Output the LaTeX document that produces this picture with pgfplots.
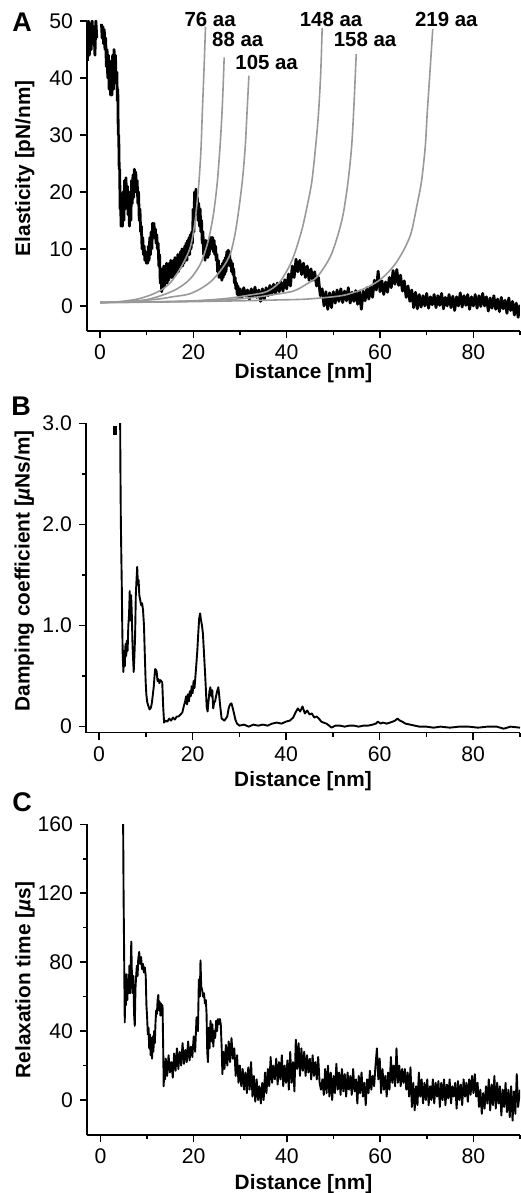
\documentclass[border=0pt]{standalone}
\usepackage{fontspec}
\setmainfont{Liberation Sans}
\usepackage{pgfplots}
\pgfplotsset{compat=1.18}

\definecolor{wlc}{gray}{0.6}

\pgfplotsset{
  panel/.style={
    scale only axis,
    width=216.5pt,
    axis lines=left,
    axis line style={-, line width=0.75pt},
    tick align=outside,
    major tick length=3.5pt,
    minor tick length=2pt,
    every tick/.style={black, line width=0.75pt},
    xmin=-2.8, xmax=90,
    xtick={0,20,40,60,80},
    minor xtick={10,30,50,70,90},
    ticklabel style={font=\fontsize{10.6}{12}\selectfont},
    label style={font=\bfseries\fontsize{10.4}{12}\selectfont},
    /pgf/number format/assume math mode=true,
    xlabel={Distance [nm]},
  },
}

\begin{document}
\begin{tikzpicture}
\useasboundingbox (0,0) rectangle (260pt,-596.5pt);

% ---------------- A: elasticity ----------------
\begin{axis}[panel,
  at={(43.5pt,-165.5pt)}, anchor=south west,
  height=155pt,
  ymin=-4.4, ymax=50,
  ytick={0,10,20,30,40,50},
  ylabel={Elasticity [pN/nm]},
  ylabel style={at={(axis description cs:-0.144,0.525)}, anchor=center},
  xlabel style={at={(axis description cs:0.5,-0.153)}, anchor=base},
  clip mode=individual,
]
\addplot[black, line width=1.4pt, line join=round] coordinates {
(-2.7,43) (-2.5,50) (-2.3,44) (-2.1,49.5) (-1.9,45) (-1.7,50) (-1.5,46) (-1.3,49) (-1.1,44) (-0.9,50) (-0.7,47)
};
\addplot[black, line width=1.4pt, line join=round] coordinates {
(0.3,49.5) (0.45,47) (0.6,49) (0.75,46) (0.9,48.5) (1.05,45) (1.2,47) (1.35,42) (1.5,45) (1.65,40)
(1.8,44) (1.95,38) (2.1,43) (2.25,37) (2.4,42) (2.55,37) (2.7,44) (2.85,38) (3.0,45) (3.15,40)
(3.3,44) (3.45,39) (3.6,41) (3.7,36) (3.8,38) (3.9,30) (4.0,30) (4.1,24) (4.2,24) (4.3,17)
(4.4,19) (4.5,14) (4.65,18) (4.8,14) (4.95,20) (5.1,15) (5.25,22) (5.4,17) (5.55,22.5) (5.7,18)
(5.85,21) (6.0,16) (6.15,19) (6.3,14) (6.45,20) (6.6,15) (6.75,22) (6.9,18) (7.05,23) (7.2,19)
(7.35,24) (7.5,20) (7.65,23.5) (7.8,20) (7.95,22) (8.1,18) (8.25,20) (8.4,15) (8.55,17) (8.7,13)
(8.85,14) (9.0,10) (9.15,12) (9.3,9) (9.45,10.5) (9.6,8) (9.75,9.5) (9.9,7.5) (10.05,9.5) (10.2,7.5)
(10.35,10.5) (10.5,8) (10.65,12) (10.8,9) (10.95,13) (11.1,10) (11.25,14.5) (11.4,12) (11.55,14.5) (11.7,12)
(11.85,13.5) (12.0,11) (12.15,12.5) (12.3,10) (12.45,11) (12.6,7) (12.75,9) (12.9,4) (13.05,6) (13.2,2.5)
(13.35,6.5) (13.5,3) (13.65,7) (13.8,3.5) (13.95,7) (14.1,4) (14.25,7.5) (14.4,4) (14.55,7) (14.7,4.5)
(14.85,7.5) (15.0,5) (15.15,8) (15.3,5) (15.45,7.5) (15.6,5) (15.75,8) (15.9,5.5) (16.05,8.5) (16.2,5.5)
(16.35,8) (16.5,6) (16.65,9) (16.8,6) (16.95,9) (17.1,6.5) (17.25,9.5) (17.4,7) (17.55,10) (17.7,7)
(17.85,10) (18.0,7.5) (18.15,10.5) (18.3,8) (18.45,11) (18.6,8) (18.75,11.5) (18.9,9) (19.05,12) (19.2,9)
(19.35,12.5) (19.5,10) (19.65,13) (19.8,11) (19.95,17) (20.1,13) (20.25,20) (20.4,16) (20.55,20.5) (20.7,17)
(20.85,19) (21.0,15) (21.15,18) (21.3,14) (21.45,17) (21.6,13) (21.75,15) (21.9,11) (22.05,13) (22.2,9)
(22.35,11) (22.5,8) (22.65,11.5) (22.8,9) (22.95,11) (23.1,8.5) (23.25,11.5) (23.4,9) (23.55,12) (23.7,10)
(23.85,12) (24.0,10) (24.15,12) (24.3,9.5) (24.45,11.5) (24.6,9) (24.75,10.5) (24.9,8) (25.05,9) (25.2,6)
(25.35,8) (25.5,5) (25.65,7) (25.8,5) (25.95,7) (26.1,4.5) (26.25,7.5) (26.4,5) (26.55,8) (26.7,5.5)
(26.85,8.5) (27.0,6) (27.15,9.5) (27.3,7) (27.45,9.8) (27.6,7.5) (27.75,9.5) (27.9,7) (28.05,8) (28.2,6)
(28.35,7.5) (28.5,5.5) (28.65,6.5) (28.8,4) (28.95,5) (29.1,3) (29.25,4) (29.4,2) (29.55,3.5) (29.7,1.5)
(30.0,3) (30.4,1.5) (30.8,3.2) (31.2,1.8) (31.6,2.8) (32.0,1.2) (32.4,3) (32.8,1.6) (33.2,3.3) (33.6,1.5)
(34.0,2.8) (34.4,0.8) (34.8,3) (35.2,1.2) (35.6,3.2) (36.0,1.8) (36.4,3.6) (36.8,2) (37.2,3.8) (37.6,2.2)
(38.0,4) (38.4,2.5) (38.8,4.2) (39.2,2.6) (39.6,4.6) (40.0,3) (40.4,5.6) (40.8,3.5) (41.2,7) (41.6,5)
(42.0,8.2) (42.4,6) (42.8,8) (43.2,5.5) (43.6,7.5) (44.0,5) (44.4,7) (44.8,4.5) (45.2,6.5) (45.6,4.5)
(46.0,6) (46.4,3.5) (46.8,5) (47.2,1.8) (47.6,3) (48.0,0) (48.4,2.5) (48.8,-0.6) (49.2,2.3) (49.6,-0.3)
(50.0,2.5) (50.4,0.5) (50.8,2.8) (51.2,0.8) (51.6,3) (52.0,0.6) (52.4,2.6) (52.8,0.9) (53.2,3.2) (53.6,0.5)
(54.0,2.4) (54.4,0.8) (54.8,2.7) (55.2,0.3) (55.6,2.5) (56.0,-0.6) (56.4,2.6) (56.8,0.9) (57.2,3.2) (57.6,1.2)
(58.0,3.4) (58.4,1.5) (58.8,4.5) (59.2,2.8) (59.6,6.1) (60.0,2.5) (60.4,4.4) (60.8,2) (61.2,4.2) (61.6,2.4)
(62.0,5) (62.4,3.2) (62.8,6.2) (63.2,3.8) (63.6,6.4) (64.0,3.6) (64.4,5.4) (64.8,2.6) (65.2,4.4) (65.6,1.5)
(66.0,3.5) (66.4,0.8) (66.8,2.8) (67.2,-0.3) (67.6,2.4) (68.0,-0.5) (68.4,2) (68.8,-0.2) (69.2,1.8) (69.6,0)
(70.0,2.2) (70.4,-0.4) (70.8,1.6) (71.2,0.2) (71.6,2) (72.0,-0.3) (72.4,1.8) (72.8,0.1) (73.2,2.2) (73.6,-0.5)
(74.0,1.5) (74.4,0) (74.8,2) (75.2,-0.3) (75.6,1.7) (76.0,-0.8) (76.4,1.6) (76.8,0) (77.2,2.3) (77.6,-0.2)
(78.0,1.8) (78.4,0.1) (78.8,2) (79.2,-0.6) (79.6,1.6) (80.0,0) (80.4,2) (80.8,-0.4) (81.2,1.8) (81.6,-0.1)
(82.0,2.2) (82.4,0) (82.8,1.6) (83.2,-0.9) (83.6,1.4) (84.0,-0.4) (84.4,1.8) (84.8,-0.6) (85.2,1.2) (85.6,-1)
(86.0,1.5) (86.4,-0.5) (86.8,1) (87.2,-1.3) (87.6,1.4) (88.0,-0.8) (88.4,0.8) (88.8,-1.6) (89.2,0.5) (89.6,-2) (90,0.2)
};
% worm-like-chain curves
\addplot[wlc, line width=0.8pt, smooth] coordinates {
(0,0.6) (4,0.75) (8,1.2) (11.1,2.0) (13.5,3.0) (15.4,4.4) (17.5,7) (19.3,10.2) (20.3,14.5) (21.1,20.8) (21.6,27) (21.9,33.6) (22.3,42) (22.6,49)
};
\addplot[wlc, line width=0.8pt, smooth] coordinates {
(0,0.6) (5,0.7) (10,1.1) (13.9,2.05) (16.5,3.0) (18.9,4.4) (20.5,6) (21.8,7.9) (23.2,11.5) (24.3,16.1) (25.1,21.5) (25.7,27.8) (26.2,35) (26.6,43.6)
};
\addplot[wlc, line width=0.8pt, smooth] coordinates {
(0,0.6) (6,0.75) (12.4,1.2) (15.5,1.6) (18.9,2.05) (21.5,3) (23.9,4.4) (26.2,6.6) (27.9,9.1) (28.9,12.5) (29.6,16.1) (30.5,22) (31.1,27.8) (31.5,34) (31.9,40.4)
};
\addplot[wlc, line width=0.8pt, smooth] coordinates {
(0,0.6) (10,0.7) (20,0.9) (27,1.3) (32,1.9) (35.7,2.5) (38.5,4.2) (41.1,7.9) (43.2,13.2) (44.5,18) (45.4,21.9) (46.2,28) (46.8,33.6) (47.3,41) (47.6,48.8)
};
\addplot[wlc, line width=0.8pt, smooth] coordinates {
(0,0.6) (15,0.75) (25,1.0) (32,1.4) (36.5,1.9) (41.4,2.6) (44.2,3.8) (46.4,5.0) (48.2,7) (49.6,9.1) (51,12.5) (52.1,16.1) (53.1,21.5) (53.9,27.8) (54.4,35) (54.9,44.2)
};
\addplot[wlc, line width=0.8pt, smooth] coordinates {
(0,0.6) (15,0.7) (30,0.9) (38,1.05) (44.3,1.2) (51.4,1.75) (54.5,2.4) (57.1,3.2) (59.5,4.3) (61.4,5.6) (63.2,7.3) (64.6,9.1) (65.8,11) (66.8,13.2) (68.0,18) (68.9,21.9) (69.7,28) (70.1,33.6) (70.7,41) (71.3,48.6)
};
\begin{scope}[every node/.style={font=\bfseries\fontsize{10.2}{12}\selectfont, inner sep=0pt}]
\node at (axis cs:23.6,50.3) {76 aa};
\node at (axis cs:29.5,46.7) {88 aa};
\node at (axis cs:35.7,42.8) {105 aa};
\node at (axis cs:49.5,50.3) {148 aa};
\node at (axis cs:56.8,46.7) {158 aa};
\node at (axis cs:74.2,50.3) {219 aa};
\end{scope}
\end{axis}

% ---------------- B: damping ----------------
\begin{axis}[panel,
  at={(43pt,-366.35pt)}, anchor=south west,
  width=217pt, height=154.7pt,
  ymin=-0.06, ymax=3.0,
  ytick={0,1,2,3}, yticklabels={0,1.0,2.0,3.0},
  minor ytick={0.5,1.5,2.5},
  ylabel={Damping coefficient [{\itshape µ}Ns/m]},
  ylabel style={at={(axis description cs:-0.142,0.523)}, anchor=center},
  xlabel style={at={(axis description cs:0.5,-0.173)}, anchor=base},
]
\addplot[black, line width=1.6pt] coordinates {(3.4,2.97) (3.4,2.88)};
\addplot[black, line width=0.95pt, line join=round] coordinates {
(4.5,3.05) (4.55,2.6) (4.65,2.03) (4.75,1.7) (4.85,1.4) (4.95,1.0) (5.05,0.71) (5.2,0.54) (5.35,0.75) (5.5,0.6)
(5.65,0.82) (5.8,0.7) (5.95,0.85) (6.1,0.75) (6.25,1.0) (6.4,1.1) (6.55,1.34) (6.7,1.05) (6.85,1.3) (7.0,1.1)
(7.15,0.8) (7.4,0.54) (7.55,0.7) (7.7,0.9) (7.85,1.3) (8.0,1.45) (8.15,1.58) (8.3,1.4) (8.45,1.45) (8.6,1.3)
(8.8,1.25) (9.0,1.2) (9.2,1.22) (9.4,1.15) (9.6,1.0) (9.75,0.75) (9.95,0.45) (10.1,0.32) (10.3,0.24) (10.5,0.21)
(10.8,0.17) (11.1,0.19) (11.3,0.24) (11.5,0.32) (11.7,0.4) (11.85,0.5) (12.0,0.57) (12.3,0.55) (12.5,0.45) (12.7,0.47)
(12.9,0.43) (13.1,0.46) (13.3,0.45) (13.5,0.44) (13.7,0.2) (13.9,0.04) (14.2,0.06) (14.6,0.05) (15.0,0.08) (15.4,0.06)
(15.8,0.09) (16.2,0.07) (16.6,0.1) (17.0,0.1) (17.4,0.12) (17.8,0.14) (18.1,0.2) (18.4,0.25) (18.6,0.3) (18.8,0.22)
(19.0,0.32) (19.2,0.25) (19.4,0.35) (19.6,0.3) (19.8,0.4) (20.0,0.33) (20.2,0.45) (20.4,0.38) (20.6,0.5) (20.8,0.62)
(21.0,0.75) (21.2,0.92) (21.4,1.07) (21.6,1.12) (21.8,1.05) (22.0,1.0) (22.2,0.92) (22.4,0.75) (22.6,0.58) (22.8,0.4)
(23.0,0.2) (23.2,0.15) (23.4,0.25) (23.6,0.35) (23.8,0.39) (24.0,0.3) (24.2,0.36) (24.4,0.18) (24.6,0.24) (24.8,0.25)
(25.0,0.3) (25.3,0.36) (25.5,0.39) (25.7,0.3) (25.9,0.2) (26.2,0.08) (26.5,0.07) (26.8,0.06) (27.1,0.08) (27.4,0.1)
(27.7,0.18) (28.0,0.22) (28.3,0.23) (28.6,0.18) (28.9,0.12) (29.2,0.06) (29.5,0.03) (30.0,0.01) (31,0.02) (32,0.0)
(33,0.02) (34,0.01) (35,0.02) (36,0.01) (37,0.03) (38,0.04) (39,0.03) (40,0.05) (40.8,0.06) (41.5,0.09)
(42.0,0.14) (42.5,0.18) (43.0,0.15) (43.5,0.2) (44.0,0.13) (44.5,0.16) (45.0,0.12) (45.5,0.13) (46.0,0.09) (46.5,0.1)
(47.0,0.08) (47.5,0.05) (48.0,0.04) (48.6,0.03) (49.2,0.01) (49.7,-0.01) (50.5,0.01) (51.5,0.01) (52.5,0.0) (53.5,0.01)
(54.5,0.01) (55.5,0.0) (56.5,0.01) (57.5,0.01) (58.5,0.02) (59.2,0.03) (59.6,0.05) (60.2,0.03) (60.7,0.04) (61.5,0.03)
(62.2,0.04) (62.8,0.05) (63.3,0.06) (63.8,0.08) (64.3,0.06) (64.8,0.05) (65.5,0.03) (66.5,0.02) (67.5,0.01) (68.5,0.0)
(70,0.0) (71.5,-0.01) (73,0.0) (75,-0.01) (77,0.0) (79,0.0) (81,-0.01) (83,0.0) (85,0.0) (86.5,-0.02) (88,0.0) (90,-0.01)
};
\end{axis}

% ---------------- C: relaxation time ----------------
\begin{axis}[panel,
  at={(43.5pt,-567.5pt)}, anchor=south west,
  height=155.35pt,
  xmin=-2.9,
  ymin=-20.3, ymax=160,
  ytick={0,40,80,120,160},
  minor ytick={20,60,100,140},
  ylabel={Relaxation time [{\itshape µ}s]},
  ylabel style={at={(axis description cs:-0.143,0.5)}, anchor=center},
  xlabel style={at={(axis description cs:0.5,-0.175)}, anchor=base},
]
\addplot[black, line width=0.95pt, line join=round] coordinates {
(4.85,161) (4.9,140) (4.95,118) (5.05,90) (5.15,60) (5.2,45) (5.3,70) (5.45,55) (5.6,73) (5.75,58)
(5.9,70) (6.05,62) (6.2,78) (6.35,62) (6.5,80) (6.6,92) (6.75,70) (6.9,62) (7.05,72) (7.2,50)
(7.35,43) (7.5,65) (7.65,72) (7.8,78) (7.95,72) (8.1,82) (8.3,86) (8.5,79) (8.7,83) (8.9,76)
(9.1,79) (9.3,74) (9.5,77) (9.7,72) (9.85,55) (10.0,48) (10.15,38) (10.3,42) (10.45,30) (10.6,38)
(10.75,26) (10.9,36) (11.05,24) (11.2,37) (11.35,28) (11.5,40) (11.65,33) (11.8,45) (11.95,52) (12.1,50)
(12.25,58) (12.4,61) (12.55,52) (12.7,57) (12.85,49) (13.0,56) (13.15,52) (13.3,55) (13.45,30) (13.55,8)
(13.7,20) (13.85,12) (14.0,24) (14.3,14) (14.6,26) (14.9,16) (15.2,22) (15.5,13) (15.8,27) (16.1,17)
(16.4,30) (16.7,18) (17.0,28) (17.3,20) (17.6,33) (17.9,21) (18.2,29) (18.5,22) (18.8,34) (19.1,23)
(19.4,31) (19.7,25) (20.0,37) (20.3,28) (20.6,48) (20.9,40) (21.1,70) (21.3,60) (21.45,81) (21.6,66)
(21.8,64) (22.0,60) (22.2,62) (22.4,56) (22.6,58) (22.75,50) (22.9,28) (23.05,22) (23.2,42) (23.4,30)
(23.6,46) (23.8,34) (24.0,44) (24.2,31) (24.4,40) (24.6,36) (24.8,46) (25.0,40) (25.2,47) (25.4,44)
(25.6,47) (25.8,44) (26.0,30) (26.15,15) (26.35,28) (26.6,18) (26.9,32) (27.2,20) (27.5,34) (27.8,22)
(28.1,36) (28.4,24) (28.7,30) (29.0,14) (29.3,26) (29.6,10) (29.9,20) (30.2,8) (30.5,18) (30.8,6)
(31.1,16) (31.4,4) (31.7,19) (32.0,6) (32.3,22) (32.6,2) (32.9,14) (33.2,-1) (33.5,12) (33.8,0)
(34.1,8) (34.4,-2) (34.7,10) (35.0,0) (35.3,16) (35.6,4) (35.9,18) (36.2,8) (36.5,25) (36.8,10)
(37.1,20) (37.4,12) (37.7,24) (38.0,9) (38.3,22) (38.6,12) (38.9,26) (39.2,8) (39.5,20) (39.8,10)
(40.1,23) (40.4,6) (40.7,28) (41.0,10) (41.3,22) (41.6,5) (41.9,35) (42.2,18) (42.5,33) (42.8,14)
(43.1,30) (43.4,17) (43.7,28) (44.0,14) (44.3,26) (44.6,16) (44.9,24) (45.2,12) (45.5,26) (45.8,14)
(46.1,22) (46.4,12) (46.7,25) (47.0,10) (47.3,6) (47.6,12) (47.9,3) (48.2,18) (48.5,4) (48.8,20)
(49.1,2) (49.4,16) (49.7,0) (50.0,14) (50.3,4) (50.6,21) (50.9,6) (51.2,16) (51.5,3) (51.8,18)
(52.1,5) (52.4,15) (52.7,2) (53.0,16) (53.3,6) (53.6,14) (53.9,3) (54.2,18) (54.5,5) (54.8,12)
(55.1,-2) (55.4,14) (55.7,4) (56.0,16) (56.3,2) (56.6,10) (56.9,-3) (57.2,12) (57.5,4) (57.8,17)
(58.1,6) (58.4,14) (58.7,8) (59.0,20) (59.3,30) (59.6,12) (59.9,24) (60.2,4) (60.5,18) (60.8,6)
(61.1,14) (61.4,2) (61.7,16) (62.0,6) (62.3,25) (62.6,10) (62.9,20) (63.2,8) (63.5,30) (63.8,10)
(64.1,20) (64.4,8) (64.7,18) (65.0,10) (65.3,18) (65.6,6) (65.9,16) (66.2,2) (66.5,19) (66.8,-4)
(67.1,10) (67.4,-6) (67.7,8) (68.0,-3) (68.3,16) (68.6,2) (68.9,12) (69.2,-2) (69.5,10) (69.8,0)
(70.1,12) (70.4,-3) (70.7,8) (71.0,0) (71.3,12) (71.6,-2) (71.9,10) (72.2,2) (72.5,11) (72.8,-4)
(73.1,10) (73.4,0) (73.7,12) (74.0,-3) (74.3,9) (74.6,1) (74.9,12) (75.2,-2) (75.5,8) (75.8,2)
(76.1,10) (76.4,-5) (76.7,11) (77.0,0) (77.3,9) (77.6,-3) (77.9,12) (78.2,2) (78.5,10) (78.8,-1)
(79.1,12) (79.4,3) (79.7,14) (80.0,4) (80.3,15) (80.6,2) (80.9,10) (81.2,-4) (81.5,6) (81.8,-8)
(82.1,4) (82.4,-5) (82.7,8) (83.0,-2) (83.3,12) (83.6,-6) (83.9,9) (84.2,-3) (84.5,14) (84.8,-5)
(85.1,10) (85.4,-2) (85.7,8) (86.0,-9) (86.3,6) (86.6,-4) (86.9,10) (87.2,-7) (87.5,6) (87.8,-10)
(88.1,8) (88.4,-12) (88.7,5) (89.0,-8) (89.3,15) (89.6,-4) (90,6)
};
\end{axis}

% panel letters
\begin{scope}[every node/.style={font=\bfseries\fontsize{13.5}{14}\selectfont, inner sep=0pt}]
\node at (11pt,-11.25pt) {A};
\node at (10.5pt,-202.9pt) {B};
\node at (11pt,-401.25pt) {C};
\end{scope}
\end{tikzpicture}
\end{document}
